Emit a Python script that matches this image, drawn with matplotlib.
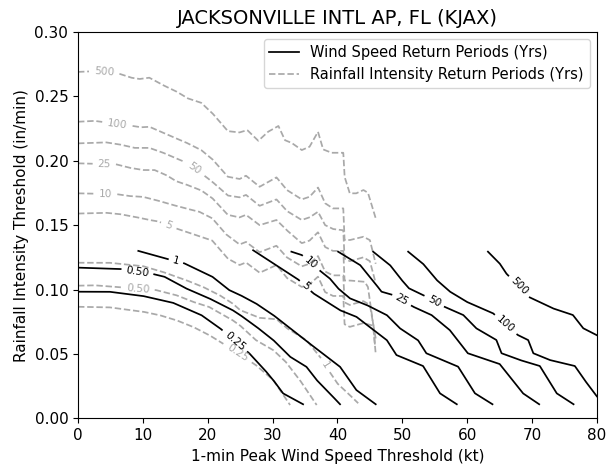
import numpy as np
import matplotlib
matplotlib.use("Agg")
import matplotlib.pyplot as plt
from matplotlib.lines import Line2D

title = "JACKSONVILLE INTL AP, FL (KJAX)"
xlabel = "1-min Peak Wind Speed Threshold (kt)"
ylabel = "Rainfall Intensity Threshold (in/min)"
legend_labels = ["Wind Speed Return Periods (Yrs)", "Rainfall Intensity Return Periods (Yrs)"]

# ---------------- Wind speed return-period contours (black) ----------------
wind_names = ["0.25", "0.50", "1", "5", "10", "25", "50", "100", "500"]
wind_x_025 = [0, 4.8, 10, 14.6, 19, 21.9, 26.4, 28.8, 30.1, 31.6, 34.7]
wind_y_025 = [0.0983, 0.0983, 0.095, 0.0898, 0.0802, 0.0699, 0.0505, 0.0375, 0.0297, 0.0194, 0.0109]
wind_x_050 = [0, 6.6, 11.6, 13.3, 16.6, 20.2, 23.8, 25, 27.5, 30.1, 32.7, 35.2, 36.8, 38.8, 40.4]
wind_y_050 = [0.117, 0.1159, 0.112, 0.110, 0.101, 0.0932, 0.0841, 0.0802, 0.0711, 0.0608, 0.0478, 0.0401, 0.0297, 0.0194, 0.0109]
wind_x_1 = [9.3, 13.8, 16.4, 20.7, 23.3, 25, 27.4, 30.1, 35, 40.4, 42.9, 45.9]
wind_y_1 = [0.130, 0.1237, 0.1203, 0.110, 0.0996, 0.0957, 0.0893, 0.0802, 0.0608, 0.040, 0.022, 0.0109]
wind_x_5 = [27, 33.9, 36.3, 40.4, 42.9, 47.6, 49.1, 53.2, 55.8, 58.4]
wind_y_5 = [0.1305, 0.108, 0.097, 0.0839, 0.0789, 0.0608, 0.0491, 0.0406, 0.0194, 0.0109]
wind_x_10 = [32.9, 34.5, 37.5, 38.8, 40.1, 41.9, 44.5, 47.6, 49.6, 51.2, 52.4, 53.7, 58.6, 61.2, 63.9]
wind_y_10 = [0.1294, 0.1268, 0.1138, 0.1087, 0.1009, 0.0932, 0.088, 0.0802, 0.070, 0.0647, 0.0608, 0.0505, 0.0401, 0.0194, 0.0109]
wind_x_25 = [40.1, 43.5, 45.8, 46.8, 48.6, 51.7, 54.5, 57.3, 60.1, 65, 68.6, 71.1]
wind_y_25 = [0.1294, 0.119, 0.1048, 0.0983, 0.0957, 0.0866, 0.0802, 0.0686, 0.0505, 0.0422, 0.0194, 0.0109]
wind_x_50 = [45.5, 48.1, 49.8, 51.0, 53.2, 56.5, 59.4, 61.4, 64.5, 65.3, 68.1, 71.2, 73.8, 76.4]
wind_y_50 = [0.1294, 0.119, 0.108, 0.101, 0.0957, 0.0866, 0.0802, 0.0699, 0.0608, 0.0505, 0.0453, 0.0406, 0.0194, 0.0109]
wind_x_100 = [50.9, 53.2, 55.3, 57.3, 59.9, 64, 67.8, 69.4, 70.2, 72.7, 76.6, 78.1, 80]
wind_y_100 = [0.1294, 0.120, 0.1074, 0.0985, 0.0905, 0.0815, 0.0647, 0.0608, 0.0505, 0.0453, 0.0406, 0.0297, 0.017]
wind_x_500 = [63.2, 65, 66, 69.6, 73.2, 76.3, 77.9, 80]
wind_y_500 = [0.1294, 0.1203, 0.1126, 0.094, 0.0854, 0.0802, 0.0699, 0.0645]
wind_label_x = [24.3, 9.2, 15.1, 35.0, 36.0, 49.9, 54.9, 65.9, 67.7]
wind_label_y = [0.0608, 0.115, 0.122, 0.1025, 0.1208, 0.092, 0.091, 0.0725, 0.101]

# ---------------- Rainfall intensity return-period contours (gray) ----------------
rain_names = ["0.25", "0.50", "1", "5", "10", "25", "50", "100", "500"]
rain_x_025 = [0, 4.8, 10, 12.5, 15.1, 17.7, 20.2, 22.3, 27.4, 30.1, 32.7]
rain_y_025 = [0.0866, 0.0862, 0.0828, 0.0802, 0.0763, 0.0711, 0.0647, 0.0582, 0.0414, 0.0297, 0.0103]
rain_x_050 = [0, 2.5, 5.9, 12, 15.1, 17.7, 20.2, 23.8, 25, 27.4, 30.1, 32, 34.2, 36.8]
rain_y_050 = [0.103, 0.1033, 0.102, 0.0996, 0.0957, 0.0905, 0.0865, 0.0763, 0.072, 0.0608, 0.053, 0.044, 0.0297, 0.0103]
rain_x_1 = [0, 4.8, 10, 13, 16.6, 19.2, 21.8, 23.8, 25, 28, 30.6, 32.2, 35.2, 37.3, 38.8, 40, 41.5, 43.2]
rain_y_1 = [0.1208, 0.1208, 0.1182, 0.1138, 0.1074, 0.1022, 0.0957, 0.0893, 0.084, 0.078, 0.077, 0.070, 0.0608, 0.0478, 0.036, 0.027, 0.020, 0.0117]
rain_x_5 = [0, 4.3, 6.4, 8.7, 11, 12.3, 15.1, 17.1, 19.2, 20.7, 23.1, 24.9, 25.9, 28, 30.6, 32.2, 34.5, 35.7, 37, 38.1, 39.3, 40.9, 41.1, 41.9, 44, 45.5, 45.9]
rain_y_5 = [0.159, 0.1596, 0.1586, 0.1565, 0.154, 0.153, 0.1475, 0.1441, 0.1405, 0.138, 0.124, 0.119, 0.121, 0.113, 0.119, 0.109, 0.102, 0.104, 0.110, 0.098, 0.095, 0.095, 0.073, 0.071, 0.074, 0.072, 0.050]
rain_x_10 = [0, 5.9, 7.9, 10, 12, 14.1, 16.6, 18.7, 20.7, 22.8, 24.9, 25.9, 28, 30.6, 32.2, 34.5, 35.7, 37, 38.1, 39.3, 40.9, 41.1, 41.9, 44, 45, 45.9]
rain_y_10 = [0.1747, 0.1741, 0.1726, 0.172, 0.1695, 0.1664, 0.163, 0.1604, 0.1553, 0.143, 0.135, 0.137, 0.129, 0.134, 0.125, 0.118, 0.120, 0.126, 0.114, 0.111, 0.111, 0.090, 0.088, 0.091, 0.088, 0.062]
rain_x_25 = [0, 5.9, 7.9, 10, 11.8, 13.6, 15.1, 16.6, 19, 20.7, 23.1, 24.9, 25.9, 28, 30.6, 32.2, 34.5, 35.7, 37, 38.1, 39.3, 40.9, 41.1, 41.9, 44.2, 44.7, 45.5, 45.8]
rain_y_25 = [0.198, 0.1972, 0.1946, 0.1928, 0.1928, 0.1889, 0.1842, 0.1817, 0.177, 0.171, 0.158, 0.156, 0.158, 0.150, 0.154, 0.146, 0.136, 0.138, 0.1445, 0.133, 0.130, 0.130, 0.107, 0.107, 0.106, 0.102, 0.074, 0.056]
rain_x_50 = [0, 4.3, 6.4, 8.7, 11, 13, 15.1, 16.6, 19.7, 20.7, 23.1, 24.9, 25.9, 28, 30.6, 32.2, 34.5, 35.7, 37, 38.1, 39.3, 40.9, 41.1, 41.9, 44, 45, 45.9]
rain_y_50 = [0.2135, 0.2143, 0.2127, 0.210, 0.210, 0.2065, 0.2019, 0.1988, 0.1876, 0.1837, 0.173, 0.1716, 0.1735, 0.165, 0.170, 0.161, 0.154, 0.156, 0.1604, 0.150, 0.147, 0.146, 0.124, 0.122, 0.125, 0.122, 0.105]
rain_x_100 = [0, 2.5, 8.2, 9.7, 11, 13, 15.1, 16.6, 19, 20.7, 23.1, 24.9, 25.9, 28.0, 30.6, 32.2, 34.5, 35.7, 37.0, 38.1, 39.3, 40.9, 41.1, 41.9, 44.0, 45.0, 45.9]
rain_y_100 = [0.2303, 0.231, 0.2272, 0.226, 0.2264, 0.222, 0.2174, 0.2143, 0.2083, 0.2013, 0.1876, 0.1858, 0.1884, 0.1798, 0.1871, 0.1773, 0.170, 0.172, 0.1793, 0.167, 0.163, 0.163, 0.1384, 0.1384, 0.141, 0.1384, 0.120]
rain_x_500 = [0, 2.3, 6.1, 8.2, 9.5, 11, 13, 15.1, 16.9, 19, 20.7, 23.1, 24.9, 26.1, 27.8, 29.3, 30.9, 31.9, 32.9, 34.5, 35.7, 37.0, 37.8, 39.1, 40.9, 41.1, 41.9, 42.9, 44.0, 44.7, 45.9]
rain_y_500 = [0.269, 0.2695, 0.268, 0.2645, 0.2635, 0.2645, 0.259, 0.254, 0.2485, 0.245, 0.237, 0.223, 0.222, 0.2238, 0.2155, 0.2225, 0.227, 0.216, 0.214, 0.2083, 0.2109, 0.2225, 0.2088, 0.2062, 0.2062, 0.1876, 0.1747, 0.1747, 0.1773, 0.1752, 0.1553]
rain_label_x = [24.6, 9.2, 38.1, 14.0, 4.2, 4.05, 18.0, 6.1, 4.05]
rain_label_y = [0.0505, 0.101, 0.041, 0.150, 0.176, 0.1988, 0.1935, 0.230, 0.270]

x_ticks = [0, 10, 20, 30, 40, 50, 60, 70, 80]
y_ticks = [0.00, 0.05, 0.10, 0.15, 0.20, 0.25, 0.30]

wind_curves = [(wind_x_025, wind_y_025), (wind_x_050, wind_y_050), (wind_x_1, wind_y_1),
               (wind_x_5, wind_y_5), (wind_x_10, wind_y_10), (wind_x_25, wind_y_25),
               (wind_x_50, wind_y_50), (wind_x_100, wind_y_100), (wind_x_500, wind_y_500)]
rain_curves = [(rain_x_025, rain_y_025), (rain_x_050, rain_y_050), (rain_x_1, rain_y_1),
               (rain_x_5, rain_y_5), (rain_x_10, rain_y_10), (rain_x_25, rain_y_25),
               (rain_x_50, rain_y_50), (rain_x_100, rain_y_100), (rain_x_500, rain_y_500)]

BLACK = "black"
GRAY = "#a9a9a9"

fig = plt.figure(figsize=(6.16, 4.67), dpi=100)
ax = fig.add_axes([0.1266, 0.1043, 0.8424, 0.8272])
ax.set_xlim(0, 80)
ax.set_ylim(0, 0.30)
renderer = fig.canvas.get_renderer()


def labeled_line(xs, ys, text, lx, ly, color, ls, lw, tcolor, fs=7.6, pad=5.0):
    pts = ax.transData.transform(np.column_stack([xs, ys]))
    seg = np.hypot(np.diff(pts[:, 0]), np.diff(pts[:, 1]))
    s = np.concatenate([[0.0], np.cumsum(seg)])
    ss = np.linspace(0, s[-1], int(s[-1] * 3) + 2)
    dx = np.interp(ss, s, pts[:, 0])
    dy = np.interp(ss, s, pts[:, 1])
    lp = ax.transData.transform((lx, ly))
    i = int(np.argmin(np.hypot(dx - lp[0], dy - lp[1])))
    t = ax.text(0, 0, text, fontsize=fs)
    w = t.get_window_extent(renderer).width
    t.remove()
    half = w / 2 + pad
    j1 = int(np.argmin(np.abs(ss - (ss[i] - half))))
    j2 = int(np.argmin(np.abs(ss - (ss[i] + half))))
    ang = np.degrees(np.arctan2(dy[j2] - dy[j1], dx[j2] - dx[j1]))
    if ang > 90:
        ang -= 180
    if ang < -90:
        ang += 180
    mask = np.abs(ss - ss[i]) < half
    gx = dx.copy()
    gy = dy.copy()
    gx[mask] = np.nan
    gy[mask] = np.nan
    data = ax.transData.inverted().transform(np.column_stack([gx, gy]))
    ax.plot(data[:, 0], data[:, 1], color=color, ls=ls, lw=lw, zorder=2)
    c = ax.transData.inverted().transform((dx[i], dy[i]))
    ax.text(c[0], c[1], text, fontsize=fs, color=tcolor, rotation=ang,
            rotation_mode="anchor", ha="center", va="center", zorder=3)


for (xs, ys), name, lx, ly in zip(rain_curves, rain_names, rain_label_x, rain_label_y):
    labeled_line(xs, ys, name, lx, ly, GRAY, (0, (3.7, 1.6)), 1.25, GRAY)
for (xs, ys), name, lx, ly in zip(wind_curves, wind_names, wind_label_x, wind_label_y):
    labeled_line(xs, ys, name, lx, ly, BLACK, "-", 1.25, BLACK)

ax.set_xticks(x_ticks)
ax.set_yticks(y_ticks)
ax.set_yticklabels([f"{v:.2f}" for v in y_ticks])
ax.tick_params(labelsize=11)
ax.set_xlabel(xlabel, fontsize=11)
ax.set_ylabel(ylabel, fontsize=11)
ax.set_title(title, fontsize=14)

handles = [Line2D([0], [0], color=BLACK, lw=1.25),
           Line2D([0], [0], color=GRAY, lw=1.25, ls=(0, (3.7, 1.6)))]
ax.legend(handles, legend_labels, loc="upper right", fontsize=10.5)

fig.savefig("out.png", dpi=100)
